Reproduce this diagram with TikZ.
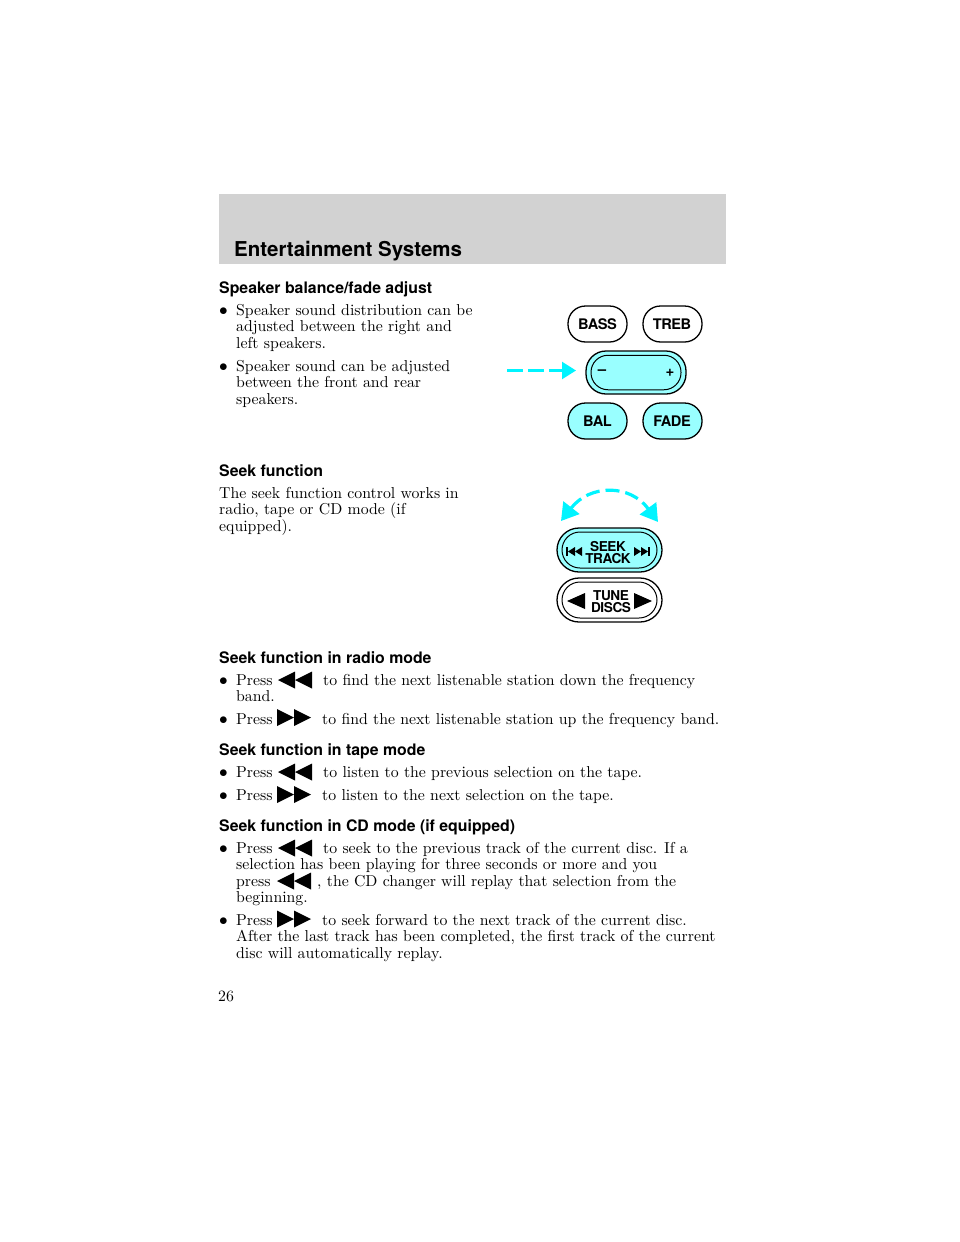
\documentclass[tikz,border=0pt]{standalone}
\usepackage{fontspec}
\newfontfamily\heros{TeX Gyre Heros}
\newfontfamily\tightheros{TeX Gyre Heros}[LetterSpace=-3]
\newfontfamily\bodyfont{lmroman10-regular.otf}
\usetikzlibrary{arrows.meta}

\definecolor{bandgray}{HTML}{D2D2D2}
\definecolor{panelcyan}{HTML}{99FFFF}
\definecolor{markcyan}{HTML}{00F4FF}

\tikzset{
	x=1pt, y=-1pt,
	bodyline/.style={anchor=base west, inner sep=0pt, yshift=0.7pt, font=\fontsize{15.8}{16.5}\bodyfont},
	headline/.style={anchor=base west, inner sep=0pt, font=\fontsize{15.85}{16.5}\heros\bfseries},
	dot/.style={anchor=base west, inner sep=0pt, yshift=0.7pt, font=\fontsize{16.1}{16.5}\selectfont},
	keytext/.style={inner sep=0pt, font=\fontsize{14.6}{15}\tightheros\bfseries},
	seektext/.style={inner sep=0pt, font=\fontsize{13.6}{14}\tightheros\bfseries},
	pill/.style={draw=black, line width=1.3pt, rounded corners=17.5pt, minimum width=59pt, minimum height=36pt, inner sep=0pt},
	longpill/.style={draw=black, line width=1.3pt, rounded corners=20pt, inner sep=0pt},
	pics/rewicon/.style={code={
		\fill (0,0) -- (17,-8.5) -- (17,8.5) -- cycle;
		\fill (17,0) -- (34,-8.5) -- (34,8.5) -- cycle;
	}},
	pics/ffwicon/.style={code={
		\fill (0,-8.5) -- (17,0) -- (0,8.5) -- cycle;
		\fill (17,-8.5) -- (34,0) -- (17,8.5) -- cycle;
	}},
}

\begin{document}
\begin{tikzpicture}

	\useasboundingbox (0,0) rectangle (960,1242);
	\fill [white] (0,0) rectangle (960,1242);

	\fill [bandgray] (219,194) rectangle (726,264);
	\node [headline, font=\fontsize{20.5}{21}\heros\bfseries] (title) at (234,256) {Entertainment Systems};

	\node [headline] (headbal) at (219,293) {Speaker balance/fade adjust};
	\node [dot] (dota) at (219,316) {$\bullet$};
	\node [bodyline] (la) at (236,316) {Speaker sound distribution can be};
	\node [bodyline] (lb) at (236,332) {adjusted between the right and};
	\node [bodyline] (lc) at (236,349) {left speakers.};
	\node [dot] (dotb) at (219,372) {$\bullet$};
	\node [bodyline] (ld) at (236,372) {Speaker sound can be adjusted};
	\node [bodyline] (le) at (236,388) {between the front and rear};
	\node [bodyline] (lf) at (236,405) {speakers.};

	\node [headline] (headseek) at (219,476) {Seek function};
	\node [bodyline] (lg) at (219,499) {The seek function control works in};
	\node [bodyline] (lh) at (219,515) {radio, tape or CD mode (if};
	\node [bodyline] (li) at (219,532) {equipped).};

	\node [headline] (headradio) at (219,663) {Seek function in radio mode};
	\node [dot] (dotc) at (219,686) {$\bullet$};
	\node [bodyline] (lj) at (236,686) {Press};
	\pic at (278,680) {rewicon};
	\node [bodyline] (lk) at (323,686) {to find the next listenable station down the frequency};
	\node [bodyline] (ll) at (236,702) {band.};
	\node [dot] (dotd) at (219,725) {$\bullet$};
	\node [bodyline] (lm) at (236,725) {Press};
	\pic at (277,717.5) {ffwicon};
	\node [bodyline] (ln) at (322,725) {to find the next listenable station up the frequency band.};

	\node [headline] (headtape) at (219,755) {Seek function in tape mode};
	\node [dot] (dote) at (219,778) {$\bullet$};
	\node [bodyline] (lo) at (236,778) {Press};
	\pic at (278,772) {rewicon};
	\node [bodyline] (lp) at (323,778) {to listen to the previous selection on the tape.};
	\node [dot] (dotf) at (219,801) {$\bullet$};
	\node [bodyline] (lq) at (236,801) {Press};
	\pic at (277,794.5) {ffwicon};
	\node [bodyline] (lr) at (322,801) {to listen to the next selection on the tape.};

	\node [headline] (headcd) at (219,831) {Seek function in CD mode (if equipped)};
	\node [dot] (dotg) at (219,854) {$\bullet$};
	\node [bodyline] (ls) at (236,854) {Press};
	\pic at (278,848) {rewicon};
	\node [bodyline] (lt) at (323,854) {to seek to the previous track of the current disc. If a};
	\node [bodyline] (lu) at (236,870) {selection has been playing for three seconds or more and you};
	\node [bodyline] (lv) at (236,887) {press};
	\pic at (277,881) {rewicon};
	\node [bodyline] (lw) at (317,887) {, the CD changer will replay that selection from the};
	\node [bodyline] (lx) at (236,903) {beginning.};
	\node [dot] (doth) at (219,926) {$\bullet$};
	\node [bodyline] (ly) at (236,926) {Press};
	\pic at (277,919) {ffwicon};
	\node [bodyline] (lz) at (322,926) {to seek forward to the next track of the current disc.};
	\node [bodyline] (lza) at (236,942) {After the last track has been completed, the first track of the current};
	\node [bodyline] (lzb) at (236,959) {disc will automatically replay.};
	\node [bodyline] (pagenum) at (218,1002) {26};

	% audio panel
	\node [pill] (bass) at (597.5,324) {};
	\node [keytext] (basstext) at (597.5,324) {BASS};
	\node [pill] (treb) at (672.5,324) {};
	\node [keytext] (trebtext) at (672,324) {TREB};
	\node [pill, fill=panelcyan] (bal) at (597.5,421) {};
	\node [keytext] (baltext) at (597.5,421) {BAL};
	\node [pill, fill=panelcyan] (fade) at (672.5,421) {};
	\node [keytext] (fadetext) at (672,421) {FADE};
	\node [longpill, fill=panelcyan, minimum width=100pt, minimum height=43pt] (slider) at (636,372.5) {};
	\node [longpill, line width=1pt, rounded corners=17pt, minimum width=90pt, minimum height=34.5pt] (sliderin) at (636,372.5) {};
	\node [keytext, font=\fontsize{15}{15}\heros\bfseries] (minus) at (602,372.5) {\textendash};
	\node [keytext, font=\fontsize{15}{15}\heros\bfseries] (plus) at (670,372.5) {+};
	\coordinate (balfrom) at (507,370.5);
	\coordinate (balto) at (576,370.5);
	\draw [markcyan, line width=2.4pt, dash pattern=on 16pt off 5pt, -{Triangle[length=14pt,width=17pt]}] (balfrom) -- (balto);

	% seek and tune
	\node [longpill, fill=panelcyan, rounded corners=22pt, minimum width=105pt, minimum height=44pt] (seek) at (609.5,550) {};
	\node [longpill, line width=1pt, rounded corners=18pt, minimum width=95pt, minimum height=36pt] (seekin) at (609.5,550) {};
	\node [seektext] (seeklabel) at (608,547) {SEEK};
	\node [seektext] (tracklabel) at (608,559) {TRACK};
	\fill (566,547) rectangle (568,556);
	\fill (568,551.5) -- (575,547) -- (575,556) -- cycle;
	\fill (575,551.5) -- (582,547) -- (582,556) -- cycle;
	\fill (634,547) -- (641,551.5) -- (634,556) -- cycle;
	\fill (641,547) -- (648,551.5) -- (641,556) -- cycle;
	\fill (648,547) rectangle (650,556);

	\node [longpill, fill=white, rounded corners=22pt, minimum width=105pt, minimum height=44pt] (tune) at (609.5,600) {};
	\node [longpill, line width=1pt, rounded corners=18pt, minimum width=95pt, minimum height=36pt] (tunein) at (609.5,600) {};
	\node [seektext] (tunelabel) at (611,596) {TUNE};
	\node [seektext] (discslabel) at (611,608) {DISCS};
	\fill (567,601) -- (585,593) -- (585,609) -- cycle;
	\fill (634,593) -- (652,601) -- (634,609) -- cycle;

	\coordinate (arcleft) at (561,521);
	\coordinate (arcright) at (658,522);
	\draw [markcyan, line width=3.2pt, dash pattern=on 14pt off 6pt, {Triangle[length=17pt,width=20pt]}-{Triangle[length=17pt,width=20pt]}] (arcleft) .. controls (590,484) and (630,484) .. (arcright);

\end{tikzpicture}
\end{document}
